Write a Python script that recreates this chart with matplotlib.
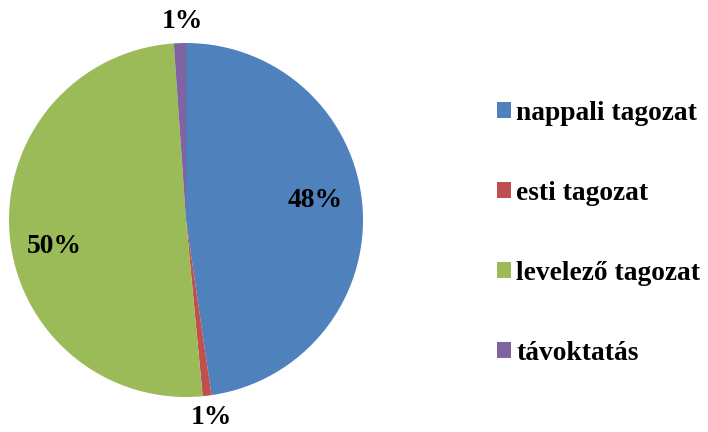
import numpy as np
import matplotlib
matplotlib.use("Agg")
import matplotlib.pyplot as plt
from matplotlib import font_manager as fm

categories = ["nappali tagozat", "esti tagozat", "levelező tagozat", "távoktatás"]
values = [47.7, 0.8, 50.4, 1.1]
colors = ["#4F81BD", "#C0504D", "#9BBB59", "#8064A2"]

plt.rcParams['font.family'] = ['Liberation Serif', 'DejaVu Serif']
fp = fm.FontProperties(family=['Liberation Serif', 'DejaVu Serif'], weight='bold', size=19.8)

fig = plt.figure(figsize=(7.08, 4.32), dpi=100)
ax = fig.add_axes([9/708, 35/432, 354/708, 354/432])

wedges, _ = ax.pie(values, colors=colors, startangle=90, counterclock=False,
                   radius=1.0, wedgeprops=dict(linewidth=0))
ax.set_xlim(-1, 1)
ax.set_ylim(-1, 1)
ax.set_aspect('equal')
ax.axis('off')

radii = [0.74, 1.125, 0.76, 1.12]
nudges = [4.5, 0.5, 6.5, -1.0]
total = sum(values)
for w, v, r, dn in zip(wedges, values, radii, nudges):
    ang = np.deg2rad((w.theta1 + w.theta2) / 2 + dn)
    x, y = r * np.cos(ang), r * np.sin(ang)
    ax.text(x, y, f"{round(v / total * 100):d}%", ha='center', va='center',
            fontproperties=fp, clip_on=False)

leg = fig.legend(wedges, categories, loc='center left',
                 bbox_to_anchor=(486/708, (432 - 233)/432), frameon=False,
                 prop=fp,
                 labelspacing=2.0, handlelength=0.5, handleheight=0.5,
                 handletextpad=0.2, borderaxespad=0)

fig.savefig("out.png", dpi=100)
